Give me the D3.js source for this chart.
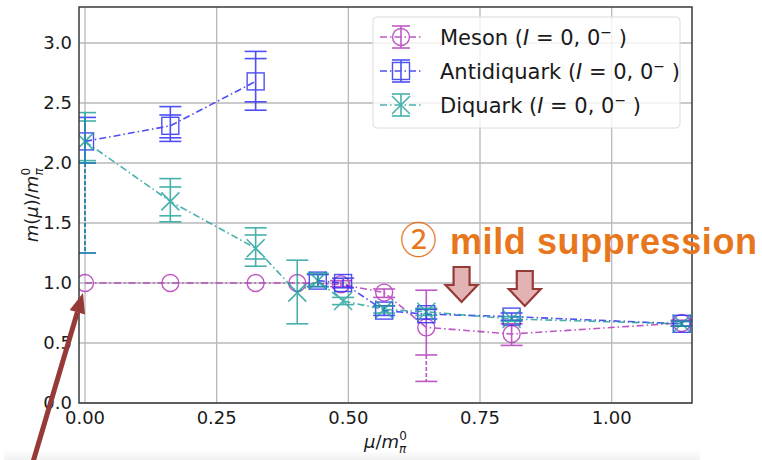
<!DOCTYPE html>
<html>
<head>
<meta charset="utf-8">
<script src="https://cdn.jsdelivr.net/npm/d3@7"></script>
<style>
	body { margin: 0; background: #fff; }
	#visHolder { width: 762px; height: 460px; }
	text { font-family: "DejaVu Sans", sans-serif; }
</style>
</head>
<body>
<div id="visHolder"></div>
<script>
// values
const mesonX = [0.0, 0.162, 0.324, 0.403, 0.486, 0.568, 0.648, 0.81, 1.133];
const mesonY = [1.0, 1.0, 1.0, 1.0, 0.99, 0.92, 0.63, 0.575, 0.667];
const mesonLo = [1.0, 1.0, 1.0, 1.0, 0.97, 0.88, 0.4, 0.48, 0.64];
const mesonHi = [1.0, 1.0, 1.0, 1.0, 1.02, 0.95, 0.94, 0.66, 0.69];
const mesonLoExt = [null, null, null, null, null, null, 0.18, null, null];
const mesonInner = [null, null, null, null, null, null, null, null, null];
const mesonSegment = [0, 0, 0, 0, 0, 0, 0, 0, 0];

const antiX = [0.0, 0.162, 0.324, 0.442, 0.49, 0.568, 0.648, 0.81, 1.133];
const antiY = [2.18, 2.31, 2.68, 1.02, 1.0, 0.77, 0.74, 0.72, 0.66];
const antiLo = [2.0, 2.18, 2.44, 0.97, 0.96, 0.73, 0.7, 0.69, 0.64];
const antiHi = [2.38, 2.47, 2.93, 1.07, 1.04, 0.81, 0.78, 0.75, 0.68];
const antiLoExt = [1.25, null, null, null, null, null, null, null, null];
const antiInner = [null, [2.21, 2.4], [2.51, 2.87], null, null, null, null, null, null];
const antiSegment = [0, 0, 0, 1, 1, 1, 1, 1, 1];

const diqX = [0.0, 0.162, 0.324, 0.403, 0.442, 0.49, 0.568, 0.648, 0.81, 1.133];
const diqY = [2.18, 1.68, 1.29, 0.92, 1.02, 0.85, 0.78, 0.76, 0.7, 0.66];
const diqLo = [2.0, 1.51, 1.14, 0.66, 0.97, 0.82, 0.75, 0.73, 0.68, 0.64];
const diqHi = [2.42, 1.87, 1.46, 1.19, 1.08, 0.88, 0.81, 0.79, 0.72, 0.68];
const diqLoExt = [1.25, null, null, null, null, null, null, null, null, null];
const diqInner = [[2.02, 2.35], [1.56, 1.8], [1.2, 1.4], null, null, null, null, null, null, null];
const diqSegment = [0, 0, 0, 0, 0, 0, 0, 0, 0, 0];

const xTicks = [0, 0.25, 0.5, 0.75, 1.0];
const yTicks = [0, 0.5, 1.0, 1.5, 2.0, 2.5, 3.0];
const seriesNames = ["Meson", "Antidiquark", "Diquark"];
const arrowXs = [0.715, 0.835];

const width = 762;
const height = 460;
const plot = { left: 79, right: 692, top: 7, bottom: 403 };

const svg = d3
	.select("#visHolder")
	.append("svg")
	.attr("width", width)
	.attr("height", height)
	.attr("viewBox", [0, 0, width, height]);

const x = d3.scaleLinear().domain([-0.0114, 1.1525]).range([plot.left, plot.right]);
const y = d3.scaleLinear().domain([0, 3.3]).range([plot.bottom, plot.top]);

const series = [
	{ name: seriesNames[0], xs: mesonX, ys: mesonY, lo: mesonLo, hi: mesonHi, ext: mesonLoExt, inner: mesonInner, seg: mesonSegment, color: "#b02fb8", marker: "circle" },
	{ name: seriesNames[1], xs: antiX, ys: antiY, lo: antiLo, hi: antiHi, ext: antiLoExt, inner: antiInner, seg: antiSegment, color: "#2424f4", marker: "square" },
	{ name: seriesNames[2], xs: diqX, ys: diqY, lo: diqLo, hi: diqHi, ext: diqLoExt, inner: diqInner, seg: diqSegment, color: "#1a9e98", marker: "x" },
];

drawBottomShade();
drawGrid();
drawSeries();
drawFrame();
drawTickLabels();
drawAxisTitles();
drawLegend();
drawAnnotation();

function drawBottomShade() {
	const grad = svg.append("defs").append("linearGradient")
		.attr("id", "shade").attr("x1", 0).attr("x2", 0).attr("y1", 0).attr("y2", 1);
	grad.append("stop").attr("offset", 0).attr("stop-color", "#ffffff");
	grad.append("stop").attr("offset", 1).attr("stop-color", "#f1f1f1");
	svg.append("rect")
		.attr("x", 4).attr("y", 450).attr("width", 696).attr("height", 10)
		.attr("fill", "url(#shade)");
}

function drawGrid() {
	const grid = svg.append("g").attr("stroke", "#b8b8b8").attr("stroke-width", 1.3);
	grid
		.selectAll(".vx")
		.data(xTicks)
		.join("line")
		.attr("x1", (d) => x(d))
		.attr("x2", (d) => x(d))
		.attr("y1", plot.top)
		.attr("y2", plot.bottom);
	grid
		.selectAll(".hy")
		.data(yTicks)
		.join("line")
		.attr("x1", plot.left)
		.attr("x2", plot.right)
		.attr("y1", (d) => y(d))
		.attr("y2", (d) => y(d));
}

function drawMarker(g, type, cx, cy, color) {
	if (type === "circle") {
		g.append("circle").attr("cx", cx).attr("cy", cy).attr("r", 8.5)
			.attr("fill", "none").attr("stroke", color).attr("stroke-width", 1.4);
	} else if (type === "square") {
		g.append("rect").attr("x", cx - 8.5).attr("y", cy - 8.5).attr("width", 17).attr("height", 17)
			.attr("fill", "none").attr("stroke", color).attr("stroke-width", 1.4);
	} else {
		g.append("path")
			.attr("d", `M${cx - 9},${cy - 9}L${cx + 9},${cy + 9}M${cx - 9},${cy + 9}L${cx + 9},${cy - 9}`)
			.attr("stroke", color).attr("stroke-width", 1.6);
	}
}

function drawCap(g, px, cy, color) {
	g.append("line").attr("x1", px - 11).attr("x2", px + 11).attr("y1", cy).attr("y2", cy)
		.attr("stroke", color).attr("stroke-width", 1.6);
}

function drawSeries() {
	svg.append("clipPath").attr("id", "plotClip")
		.append("rect").attr("x", plot.left).attr("y", plot.top)
		.attr("width", plot.right - plot.left).attr("height", plot.bottom - plot.top);
	const area = svg.append("g").attr("clip-path", "url(#plotClip)");

	series.forEach((s) => {
		const g = area.append("g").attr("opacity", 0.8);
		const pts = s.xs.map((d, i) => ({ p: [x(d), y(s.ys[i])], seg: s.seg[i] }));
		d3.group(pts, (d) => d.seg).forEach((group) => {
			g.append("path")
				.attr("d", d3.line()(group.map((d) => d.p)))
				.attr("fill", "none")
				.attr("stroke", s.color)
				.attr("stroke-width", 1.6)
				.attr("stroke-dasharray", "7,3,1.5,3");
		});

		s.xs.forEach((xv, i) => {
			const px = x(xv);
			const top = y(s.hi[i]);
			const bot = y(s.lo[i]);
			if (s.hi[i] - s.lo[i] > 0.001) {
				g.append("line").attr("x1", px).attr("x2", px).attr("y1", top).attr("y2", bot)
					.attr("stroke", s.color).attr("stroke-width", 1.6);
				drawCap(g, px, top, s.color);
				drawCap(g, px, bot, s.color);
			}
			if (s.inner[i] !== null) {
				s.inner[i].forEach((v) => drawCap(g, px, y(v), s.color));
			}
			if (s.ext[i] !== null) {
				const extY = y(s.ext[i]);
				g.append("line").attr("x1", px).attr("x2", px).attr("y1", bot).attr("y2", extY)
					.attr("stroke", s.color).attr("stroke-width", 1.6).attr("stroke-dasharray", "4,2");
				drawCap(g, px, extY, s.color);
			}
			drawMarker(g, s.marker, px, y(s.ys[i]), s.color);
		});
	});
}

function drawFrame() {
	svg.append("rect")
		.attr("x", plot.left).attr("y", plot.top)
		.attr("width", plot.right - plot.left).attr("height", plot.bottom - plot.top)
		.attr("fill", "none").attr("stroke", "#3a3a3a").attr("stroke-width", 1.5);
}

function drawTickLabels() {
	svg.append("g")
		.selectAll("text")
		.data(yTicks)
		.join("text")
		.attr("x", plot.left - 7)
		.attr("y", (d) => y(d))
		.attr("dy", "0.36em")
		.attr("text-anchor", "end")
		.attr("font-size", 18)
		.attr("fill", "#1a1a1a")
		.text(d3.format(".1f"));
	svg.append("g")
		.selectAll("text")
		.data(xTicks)
		.join("text")
		.attr("x", (d) => x(d))
		.attr("y", plot.bottom + 21)
		.attr("text-anchor", "middle")
		.attr("font-size", 18)
		.attr("fill", "#1a1a1a")
		.text(d3.format(".2f"));
}

function drawAxisTitles() {
	const xt = svg.append("text")
		.attr("x", (plot.left + plot.right) / 2)
		.attr("y", 448)
		.attr("text-anchor", "middle")
		.attr("font-size", 18)
		.attr("fill", "#1a1a1a");
	xt.append("tspan").attr("font-style", "italic").text("μ");
	xt.append("tspan").text("/");
	xt.append("tspan").attr("font-style", "italic").text("m");
	xt.append("tspan").attr("font-size", 12).attr("dy", 5).attr("font-style", "italic").text("π");
	xt.append("tspan").attr("font-size", 12).attr("dx", -7).attr("dy", -13).text("0");

	const yt = svg.append("text")
		.attr("transform", `translate(38,${(plot.top + plot.bottom) / 2}) rotate(-90)`)
		.attr("text-anchor", "middle")
		.attr("font-size", 18)
		.attr("fill", "#1a1a1a");
	yt.append("tspan").attr("font-style", "italic").text("m");
	yt.append("tspan").text("(");
	yt.append("tspan").attr("font-style", "italic").text("μ");
	yt.append("tspan").text(")/");
	yt.append("tspan").attr("font-style", "italic").text("m");
	yt.append("tspan").attr("font-size", 12).attr("dy", 5).attr("font-style", "italic").text("π");
	yt.append("tspan").attr("font-size", 12).attr("dx", -7).attr("dy", -13).text("0");
}

function drawLegend() {
	const lg = svg.append("g");
	lg.append("rect")
		.attr("x", 373).attr("y", 17).attr("width", 307).attr("height", 111)
		.attr("rx", 4)
		.attr("fill", "#fff").attr("fill-opacity", 0.8)
		.attr("stroke", "#dcdcdc").attr("stroke-width", 1);

	const rows = d3.scalePoint().domain(seriesNames).range([37, 105]);
	series.forEach((s) => {
		const cy = rows(s.name);
		const g = lg.append("g").attr("opacity", 0.8);
		g.append("line").attr("x1", 380).attr("x2", 422).attr("y1", cy).attr("y2", cy)
			.attr("stroke", s.color).attr("stroke-width", 1.6).attr("stroke-dasharray", "7,3,1.5,3");
		g.append("line").attr("x1", 401).attr("x2", 401).attr("y1", cy - 11).attr("y2", cy + 11)
			.attr("stroke", s.color).attr("stroke-width", 1.6);
		[cy - 11, cy + 11].forEach((yy) =>
			g.append("line").attr("x1", 392).attr("x2", 410).attr("y1", yy).attr("y2", yy)
				.attr("stroke", s.color).attr("stroke-width", 1.6)
		);
		drawMarker(g, s.marker, 401, cy, s.color);

		const t = lg.append("text")
			.attr("x", 440).attr("y", cy).attr("dy", "0.36em")
			.attr("font-size", 21).attr("fill", "#1a1a1a");
		t.append("tspan").text(`${s.name} (`);
		t.append("tspan").attr("font-style", "italic").text("I");
		t.append("tspan").text(" = 0, 0");
		t.append("tspan").attr("font-size", 14).attr("dy", -8).text("−");
		t.append("tspan").attr("dy", 8).text(" )");
	});
}

function drawAnnotation() {
	const orange = "#e8761c";
	const label = svg.append("text")
		.attr("x", 400).attr("y", 254)
		.attr("fill", orange)
		.attr("font-weight", "bold");
	label.append("tspan")
		.attr("font-family", "Noto Sans CJK JP")
		.attr("font-weight", "normal")
		.attr("font-size", 37)
		.text("②");
	label.append("tspan")
		.attr("x", 450)
		.attr("font-family", "Liberation Sans, Arial, sans-serif")
		.attr("font-size", 36)
		.attr("textLength", 307)
		.text("mild suppression");

	// pink down arrows
	svg.append("g")
		.selectAll("path")
		.data(arrowXs)
		.join("path")
		.attr("d", (d, i) => {
			const cx = x(d);
			const t = 267 + i * 4;
			return `M${cx - 8},${t}H${cx + 8}V${t + 18}H${cx + 16}L${cx},${t + 35}L${cx - 16},${t + 18}H${cx - 8}Z`;
		})
		.attr("fill", "#e3b3b3")
		.attr("stroke", "#963a38")
		.attr("stroke-width", 2.2)
		.attr("stroke-linejoin", "miter");

	// long dark red arrow pointing at mu = 0
	const tip = [x(0) - 2, y(1.0) + 10];
	const tail = [33, 462];
	const ang = Math.atan2(tip[1] - tail[1], tip[0] - tail[0]);
	const headLen = 20;
	const headHalf = 8;
	const base = [tip[0] - headLen * Math.cos(ang), tip[1] - headLen * Math.sin(ang)];
	const nx = -Math.sin(ang);
	const ny = Math.cos(ang);
	svg.append("line")
		.attr("x1", tail[0]).attr("y1", tail[1])
		.attr("x2", base[0]).attr("y2", base[1])
		.attr("stroke", "#963a38").attr("stroke-width", 5);
	svg.append("path")
		.attr("d", `M${tip[0]},${tip[1]}L${base[0] + nx * headHalf},${base[1] + ny * headHalf}L${base[0] - nx * headHalf},${base[1] - ny * headHalf}Z`)
		.attr("fill", "#963a38");
}
</script>
</body>
</html>
